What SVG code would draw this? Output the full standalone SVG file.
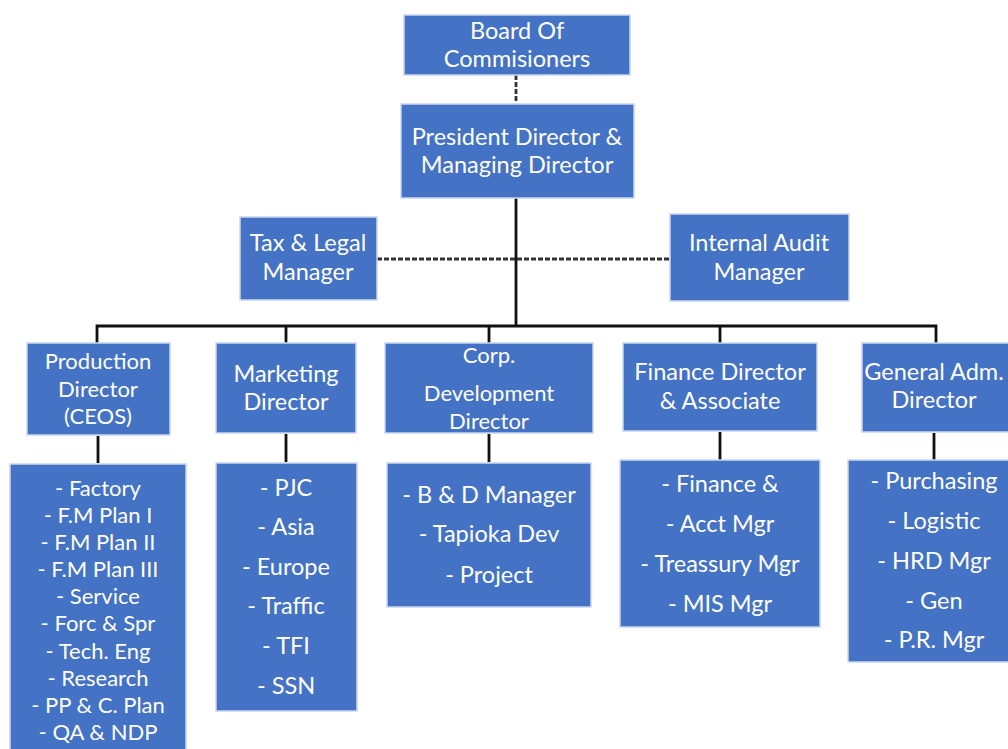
<svg xmlns="http://www.w3.org/2000/svg" width="1008" height="749" viewBox="0 0 1008 749">
<style>
.box{fill:#4472C4;stroke:#C9D6EE;stroke-width:1.5}
.t{font-family:Lato,"Open Sans","Liberation Sans",sans-serif;font-size:23.5px;fill:#FFFFFF;text-anchor:middle}
.s{font-size:22px}
.c{stroke:#111;stroke-width:2.8;fill:none}
.d{stroke:#333;stroke-width:2.8;fill:none;stroke-dasharray:5 2}
</style>
<rect width="1008" height="749" fill="#FFFFFF"/>
<g id="connectors">
<path class="d" d="M516 75V103"/>
<path class="c" d="M516 198V326"/>
<path class="d" d="M377 259H669"/>
<path class="c" d="M97 344V326H936V344M286 326V344M489 326V344M720 326V344"/>
<path class="c" d="M98 436V463M286 434V462M489 434V462M720 432V460M934 433V460"/>
</g>
<g id="board"><rect class="box" x="404" y="15" width="226" height="60"/>
<text class="t" x="517" y="39">Board Of</text><text class="t" x="517" y="67">Commisioners</text></g>
<g id="president"><rect class="box" x="401" y="104" width="233" height="94"/>
<text class="t" x="517" y="145">President Director &amp;</text><text class="t" x="517" y="173">Managing Director</text></g>
<g id="tax"><rect class="box" x="240" y="217" width="137" height="83"/>
<text class="t" x="308" y="251">Tax &amp; Legal</text><text class="t" x="308" y="280">Manager</text></g>
<g id="audit"><rect class="box" x="670" y="214" width="179" height="87"/>
<text class="t" x="759" y="251">Internal Audit</text><text class="t" x="759" y="280">Manager</text></g>
<g id="production"><rect class="box" x="27" y="343" width="143" height="92"/>
<text class="t s" x="98" y="369">Production</text><text class="t s" x="98" y="397">Director</text><text class="t s" x="98" y="424">(CEOS)</text></g>
<g id="marketing"><rect class="box" x="216" y="343" width="140" height="90"/>
<text class="t" x="286" y="382">Marketing</text><text class="t" x="286" y="410">Director</text></g>
<g id="corp"><rect class="box" x="385" y="343" width="208" height="90"/>
<text class="t s" x="489" y="363">Corp.</text><text class="t s" x="489" y="401">Development</text><text class="t s" x="489" y="429">Director</text></g>
<g id="finance"><rect class="box" x="623" y="343" width="194" height="88"/>
<text class="t" x="720" y="380">Finance Director</text><text class="t" x="720" y="409">&amp; Associate</text></g>
<g id="general"><rect class="box" x="862" y="343" width="155" height="89"/>
<text class="t" x="934" y="380">General Adm.</text><text class="t" x="934" y="408">Director</text></g>
<g id="production-list"><rect class="box" x="10" y="464" width="176" height="300"/>
<text class="t s" x="98" y="496">- Factory</text><text class="t s" x="98" y="523">- F.M Plan I</text><text class="t s" x="98" y="550">- F.M Plan II</text><text class="t s" x="98" y="577">- F.M Plan III</text><text class="t s" x="98" y="604">- Service</text><text class="t s" x="98" y="631">- Forc &amp; Spr</text><text class="t s" x="98" y="659">- Tech. Eng</text><text class="t s" x="98" y="686">- Research</text><text class="t s" x="98" y="713">- PP &amp; C. Plan</text><text class="t s" x="98" y="740">- QA &amp; NDP</text></g>
<g id="marketing-list"><rect class="box" x="216" y="463" width="141" height="248"/>
<text class="t" x="286" y="496">- PJC</text><text class="t" x="286" y="535">- Asia</text><text class="t" x="286" y="575">- Europe</text><text class="t" x="286" y="614">- Traffic</text><text class="t" x="286" y="654">- TFI</text><text class="t" x="286" y="694">- SSN</text></g>
<g id="corp-list"><rect class="box" x="387" y="463" width="204" height="144"/>
<text class="t" x="489" y="503">- B &amp; D Manager</text><text class="t" x="489" y="542">- Tapioka Dev</text><text class="t" x="489" y="583">- Project</text></g>
<g id="finance-list"><rect class="box" x="620" y="460" width="200" height="167"/>
<text class="t" x="720" y="492">- Finance &amp;</text><text class="t" x="720" y="532">- Acct Mgr</text><text class="t" x="720" y="572">- Treassury Mgr</text><text class="t" x="720" y="612">- MIS Mgr</text></g>
<g id="general-list"><rect class="box" x="848" y="460" width="170" height="202"/>
<text class="t" x="934" y="489">- Purchasing</text><text class="t" x="934" y="529">- Logistic</text><text class="t" x="934" y="569">- HRD Mgr</text><text class="t" x="934" y="609">- Gen</text><text class="t" x="934" y="648">- P.R. Mgr</text></g>
</svg>
